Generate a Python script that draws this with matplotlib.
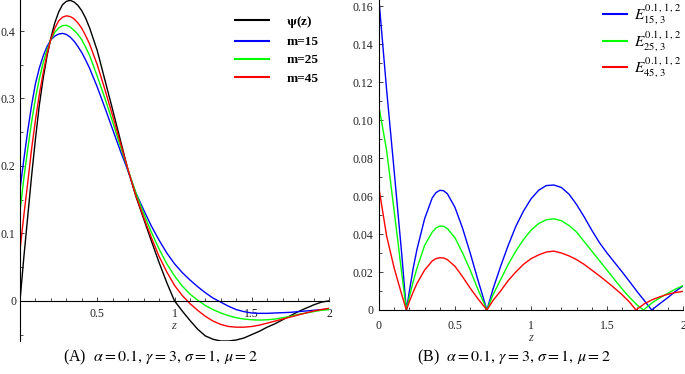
import numpy as np
import matplotlib
matplotlib.use("Agg")
import matplotlib.pyplot as plt
from matplotlib.ticker import MultipleLocator, FixedLocator
from matplotlib.transforms import ScaledTranslation

plt.rcParams['font.family'] = ['Liberation Serif', 'DejaVu Serif']
plt.rcParams['mathtext.fontset'] = 'stix'

# ---------------- Left panel data ----------------
z_left = [0.0, 0.025, 0.05, 0.075, 0.1, 0.125, 0.15, 0.175, 0.2, 0.225, 0.25, 0.275, 0.3,
          0.325, 0.35, 0.375, 0.4, 0.425, 0.45, 0.5, 0.55, 0.6, 0.65, 0.7,
          0.75, 0.8, 0.85, 0.9, 0.95, 1.0, 1.05, 1.1, 1.15, 1.2, 1.25, 1.3, 1.35, 1.4, 1.45,
          1.5, 1.55, 1.6, 1.65, 1.7, 1.75, 1.8, 1.85, 1.9, 1.95, 2.0]
psi = [0.0, 0.065, 0.125, 0.185, 0.24, 0.29, 0.33, 0.363, 0.39, 0.412, 0.428, 0.439, 0.444,
       0.4455, 0.443, 0.438, 0.430, 0.419, 0.405, 0.371, 0.327, 0.283,
       0.238, 0.193, 0.155, 0.122, 0.089, 0.057, 0.027, 0.0, -0.015, -0.029, -0.042, -0.052,
       -0.057, -0.0595, -0.0595, -0.058, -0.055, -0.050, -0.045, -0.039, -0.034, -0.028,
       -0.022, -0.016, -0.011, -0.006, -0.002, 0.0]
m15 = [0.165, 0.21, 0.252, 0.29, 0.322, 0.345, 0.363, 0.377, 0.387, 0.3925, 0.3955, 0.3965,
       0.395, 0.391, 0.385, 0.377, 0.368, 0.357, 0.345, 0.317, 0.286,
       0.254, 0.222, 0.192, 0.160, 0.135, 0.111, 0.090, 0.071, 0.055, 0.042, 0.031, 0.021,
       0.012, 0.004, -0.002, -0.008, -0.013, -0.016, -0.018, -0.0185, -0.0185, -0.018,
       -0.0175, -0.017, -0.016, -0.015, -0.014, -0.013, -0.012]
m25 = [0.133, 0.182, 0.225, 0.265, 0.300, 0.329, 0.353, 0.372, 0.387, 0.398, 0.4045, 0.408,
       0.4085, 0.406, 0.401, 0.395, 0.387, 0.376, 0.364, 0.333, 0.300,
       0.265, 0.229, 0.194, 0.160, 0.130, 0.102, 0.077, 0.055, 0.037, 0.022, 0.010, 0.001,
       -0.007, -0.013, -0.018, -0.022, -0.025, -0.027, -0.028, -0.0285, -0.028, -0.027,
       -0.025, -0.023, -0.020, -0.018, -0.016, -0.014, -0.013]
m45 = [0.075, 0.127, 0.175, 0.225, 0.268, 0.306, 0.338, 0.366, 0.388, 0.404, 0.415, 0.4205,
       0.4225, 0.4215, 0.418, 0.412, 0.404, 0.393, 0.381, 0.350, 0.313,
       0.274, 0.234, 0.194, 0.156, 0.124, 0.094, 0.066, 0.043, 0.023, 0.008, -0.004, -0.014,
       -0.023, -0.030, -0.035, -0.038, -0.039, -0.039, -0.038, -0.036, -0.033, -0.030,
       -0.027, -0.024, -0.021, -0.018, -0.015, -0.013, -0.011]

# ---------------- Right panel data ----------------
z_e15 = [0.0, 0.05, 0.1, 0.15, 0.18, 0.2, 0.225, 0.25, 0.3, 0.35, 0.375, 0.4, 0.425, 0.45,
         0.5, 0.55, 0.6, 0.65, 0.71, 0.75, 0.8, 0.85, 0.9, 0.95, 1.0, 1.05, 1.1, 1.15, 1.2,
         1.25, 1.3, 1.35, 1.4, 1.45, 1.5, 1.55, 1.6, 1.65, 1.7, 1.75, 1.794, 1.85, 1.9, 1.95,
         2.0]
e15 = [0.163, 0.116, 0.073, 0.029, 0.0, 0.010, 0.022, 0.032, 0.048, 0.059, 0.0618, 0.063,
       0.0628, 0.0612, 0.054, 0.043, 0.030, 0.016, 0.0, 0.011, 0.023, 0.034, 0.044, 0.052,
       0.0585, 0.063, 0.0655, 0.0658, 0.0645, 0.061, 0.0555, 0.049, 0.042, 0.0355, 0.030,
       0.025, 0.020, 0.0148, 0.0095, 0.0045, 0.0, 0.0035, 0.0065, 0.0098, 0.0127]
z_e25 = [0.0, 0.05, 0.1, 0.15, 0.18, 0.2, 0.225, 0.25, 0.3, 0.35, 0.375, 0.4, 0.425, 0.45,
         0.5, 0.55, 0.6, 0.65, 0.71, 0.75, 0.8, 0.85, 0.9, 0.95, 1.0, 1.05, 1.1, 1.15, 1.2,
         1.25, 1.3, 1.35, 1.4, 1.45, 1.5, 1.55, 1.6, 1.65, 1.7, 1.74, 1.8, 1.85, 1.9, 1.95,
         2.0]
e25 = [0.107, 0.084, 0.052, 0.019, 0.0, 0.007, 0.015, 0.022, 0.034, 0.041, 0.0432, 0.0442,
       0.0441, 0.0428, 0.038, 0.030, 0.021, 0.011, 0.0, 0.008, 0.016, 0.024, 0.031, 0.037,
       0.042, 0.0455, 0.0475, 0.048, 0.047, 0.0445, 0.041, 0.036, 0.031, 0.026, 0.021,
       0.016, 0.011, 0.0065, 0.0025, 0.0, 0.004, 0.0065, 0.0088, 0.011, 0.0128]
z_e45 = [0.0, 0.05, 0.1, 0.15, 0.18, 0.2, 0.225, 0.25, 0.3, 0.35, 0.375, 0.4, 0.425, 0.45,
         0.5, 0.55, 0.6, 0.65, 0.71, 0.75, 0.8, 0.85, 0.9, 0.95, 1.0, 1.05, 1.1, 1.15, 1.2,
         1.25, 1.3, 1.35, 1.4, 1.45, 1.5, 1.55, 1.6, 1.65, 1.69, 1.75, 1.8, 1.85, 1.9, 1.95,
         2.0]
e45 = [0.064, 0.039, 0.022, 0.008, 0.0, 0.0045, 0.0095, 0.014, 0.021, 0.0258, 0.0271,
       0.0275, 0.0274, 0.0265, 0.023, 0.0175, 0.0115, 0.006, 0.0, 0.005, 0.010, 0.0155,
       0.020, 0.024, 0.027, 0.029, 0.0305, 0.031, 0.030, 0.0285, 0.0265, 0.024, 0.021,
       0.018, 0.0148, 0.0115, 0.008, 0.004, 0.0, 0.0035, 0.0055, 0.007, 0.0083, 0.0092,
       0.0098]

left_labels = [r'$\mathbf{\psi}$(z)', 'm=15', 'm=25', 'm=45']
right_labels = [r'$E^{0.1,\,1,\,2}_{15,\,3}$', r'$E^{0.1,\,1,\,2}_{25,\,3}$',
                r'$E^{0.1,\,1,\,2}_{45,\,3}$']
formula = r'$\alpha = 0.1,\,\gamma = 3,\,\sigma = 1,\,\mu = 2$'
caption_a = '(A)  ' + formula
caption_b = '(B)  ' + formula

BLUE, GREEN, RED, BLACK = '#0000ff', '#00ff00', '#ff0000', '#000000'
W, H = 685, 374
fig = plt.figure(figsize=(W / 100, H / 100), dpi=100)
lw = 1.0

# ---------------- Left axes ----------------
axL = fig.add_axes([20 / W, 1 - 341 / H, 309 / W, 341 / H])
axL.plot(z_left, psi, color=BLACK, lw=lw, label=left_labels[0])
axL.plot(z_left, m15, color=BLUE, lw=lw, label=left_labels[1])
axL.plot(z_left, m25, color=GREEN, lw=lw, label=left_labels[2])
axL.plot(z_left, m45, color=RED, lw=lw, label=left_labels[3])
axL.set_xlim(0, 2)
axL.set_ylim(-0.0595, 0.446)
for s in ['top', 'right']:
    axL.spines[s].set_visible(False)
axL.spines['bottom'].set_position(('data', 0))
for s in ['left', 'bottom']:
    axL.spines[s].set_linewidth(0.8)
axL.xaxis.set_major_locator(FixedLocator([0.5, 1, 1.5, 2]))
axL.xaxis.set_minor_locator(MultipleLocator(0.1))
axL.yaxis.set_major_locator(FixedLocator([0, 0.1, 0.2, 0.3, 0.4]))
axL.yaxis.set_minor_locator(MultipleLocator(0.05))
axL.set_xticklabels(['0.5', '1', '1.5', '2'])
axL.set_yticklabels(['0', '0.1', '0.2', '0.3', '0.4'])
axL.tick_params(axis='both', which='major', direction='in', length=3, width=0.6,
                labelsize=8.5, colors='#222222')
axL.tick_params(axis='both', which='minor', direction='in', length=2, width=0.5)
axL.tick_params(axis='x', which='major', pad=5)
axL.tick_params(axis='y', which='major', pad=3.5)
# the "0" label sits a little closer to the axis in the reference
t0 = axL.yaxis.get_major_ticks()[0].label1
t0.set_transform(t0.get_transform() + ScaledTranslation(1 / 100, 0, fig.dpi_scale_trans))
axL.set_xlabel('z', fontstyle='italic', fontsize=9, color='#444444')
axL.xaxis.set_label_coords(154 / 309, (341 - 320) / 341)
legL = axL.legend(loc='upper left', bbox_to_anchor=(215 / 309, 1 - 14 / 341),
                  frameon=False, borderpad=0, borderaxespad=0, handlelength=2.6,
                  handletextpad=1.3, labelspacing=0.45,
                  prop={'family': 'Liberation Serif', 'weight': 'bold', 'size': 9.5})
for line in legL.get_lines():
    line.set_linewidth(1.5)

# ---------------- Right axes ----------------
axR = fig.add_axes([379 / W, 1 - 310 / H, 304 / W, 310 / H])
axR.plot(z_e15, e15, color=BLUE, lw=lw, label=right_labels[0])
axR.plot(z_e25, e25, color=GREEN, lw=lw, label=right_labels[1])
axR.plot(z_e45, e45, color=RED, lw=lw, label=right_labels[2])
axR.set_xlim(0, 2)
axR.set_ylim(0, 0.1632)
for s in ['top', 'right']:
    axR.spines[s].set_visible(False)
for s in ['left', 'bottom']:
    axR.spines[s].set_linewidth(0.8)
axR.xaxis.set_major_locator(FixedLocator([0, 0.5, 1, 1.5, 2]))
axR.xaxis.set_minor_locator(MultipleLocator(0.1))
axR.yaxis.set_major_locator(FixedLocator([0, 0.02, 0.04, 0.06, 0.08, 0.10, 0.12, 0.14, 0.16]))
axR.yaxis.set_minor_locator(MultipleLocator(0.01))
axR.set_xticklabels(['0', '0.5', '1', '1.5', '2'])
axR.set_yticklabels(['0', '0.02', '0.04', '0.06', '0.08', '0.10', '0.12', '0.14', '0.16'])
axR.tick_params(axis='both', which='major', direction='in', length=3, width=0.6,
                labelsize=8.5, colors='#222222')
axR.tick_params(axis='both', which='minor', direction='in', length=2, width=0.5)
axR.tick_params(axis='x', which='major', pad=7)
axR.tick_params(axis='y', which='major', pad=4)
axR.set_xlabel('z', fontstyle='italic', fontsize=9, color='#444444')
axR.xaxis.set_label_coords(0.5, -(332 - 310) / 310)
legR = axR.legend(loc='upper left', bbox_to_anchor=(224 / 304, 1 - 3 / 310),
                  frameon=False, borderpad=0, borderaxespad=0, handlelength=1.6,
                  handletextpad=0.45, labelspacing=0.15, prop={'size': 11})
for line in legR.get_lines():
    line.set_linewidth(1.5)

# ---------------- Captions ----------------
fig.text(160 / W, 1 - 357 / H, caption_a, ha='center', va='center', fontsize=11.5)
fig.text(514 / W, 1 - 357 / H, caption_b, ha='center', va='center', fontsize=11.5)

fig.savefig('out.png', dpi=100)
